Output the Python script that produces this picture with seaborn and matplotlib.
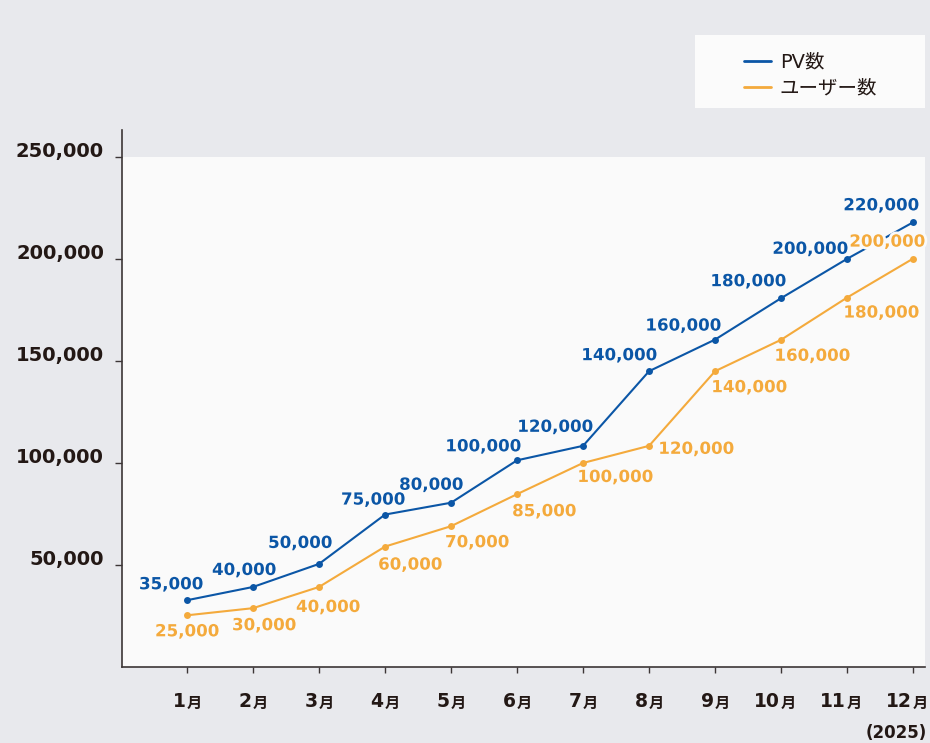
import matplotlib
matplotlib.use("Agg")
import matplotlib.pyplot as plt
import matplotlib.patheffects as pe
import pandas as pd
import seaborn as sns
from matplotlib.lines import Line2D
from matplotlib.patches import Rectangle
from matplotlib.transforms import ScaledTranslation

# data (plotted positions and printed labels differ a bit)
month_nums = ["1", "2", "3", "4", "5", "6", "7", "8", "9", "10", "11", "12"]
month_suffix = "月"
pv_values = [32500, 39000, 50300, 74500, 80300, 101100, 108200, 144800, 160300, 180600, 199900, 217800]
user_values = [25100, 28600, 39000, 58800, 68800, 84500, 99800, 108200, 144800, 160200, 180900, 200000]
pv_labels = ["35,000", "40,000", "50,000", "75,000", "80,000", "100,000",
             "120,000", "140,000", "160,000", "180,000", "200,000", "220,000"]
user_labels = ["25,000", "30,000", "40,000", "60,000", "70,000", "85,000",
               "100,000", "120,000", "140,000", "160,000", "180,000", "200,000"]
series_names = ["PV数", "ユーザー数"]
y_ticks = [50000, 100000, 150000, 200000, 250000]
y_tick_labels = ["50,000", "100,000", "150,000", "200,000", "250,000"]
year_note = "(2025)"

BLUE = "#0b56a6"
ORANGE = "#f4aa3c"
TEXT = "#231815"
FIG_BG = "#e8e9ed"
PLOT_BG = "#fafafa"

# label offsets from their point, in pixels (x right, y down)
pv_offsets = [(-16, -16), (-9, -17), (-19, -21), (-12, -15), (-20, -18), (-34, -14),
              (-28, -19), (-30, -16), (-32, -14), (-33, -17), (-37, -10), (-32, -17)]
user_offsets = [(0, 16), (11, 17), (9, 20), (25, 18), (26, 16), (27, 17),
                (32, 14), (47, 3), (34, 16), (31, 16), (34, 15), (-26, -17)]

sns.set_style("white")
plt.rcParams["font.family"] = ["DejaVu Sans", "Noto Sans CJK JP"]

df = pd.DataFrame({
    "idx": list(range(len(month_nums))) * 2,
    "value": pv_values + user_values,
    "series": [series_names[0]] * len(pv_values) + [series_names[1]] * len(user_values),
})

fig = plt.figure(figsize=(9.3, 7.43), dpi=100, facecolor=FIG_BG)
ax = fig.add_axes([122 / 930, 76.5 / 743, 803 / 930, 537 / 743])
ax.set_facecolor(FIG_BG)

x0, x1 = -0.985, 11.18
ax.set_xlim(x0, x1)
ax.set_ylim(0, 263300)
ax.add_patch(Rectangle((x0, 0), x1 - x0, y_ticks[-1], facecolor=PLOT_BG, edgecolor="none", zorder=0))

sns.lineplot(data=df, x="idx", y="value", hue="series", hue_order=series_names,
             palette=[BLUE, ORANGE], marker="o", markersize=5, markeredgewidth=0,
             linewidth=1.5, legend=False, ax=ax, zorder=3)

halo = [pe.withStroke(linewidth=4, foreground=PLOT_BG)]
for vals, labs, offs, col in [(pv_values, pv_labels, pv_offsets, BLUE),
                              (user_values, user_labels, user_offsets, ORANGE)]:
    for i, (v, lab, (dx, dy)) in enumerate(zip(vals, labs, offs)):
        ax.annotate(lab, xy=(i, v), xytext=(dx * 0.72, -dy * 0.72), textcoords="offset points",
                    ha="center", va="center", fontsize=12, fontweight="bold", color=col,
                    path_effects=halo, zorder=5)

# axes styling
for side in ["top", "right"]:
    ax.spines[side].set_visible(False)
for side in ["left", "bottom"]:
    ax.spines[side].set_color("#3c3636")
    ax.spines[side].set_linewidth(1.2)

ax.set_yticks(y_ticks)
ax.set_yticklabels(y_tick_labels, fontsize=14, fontweight="bold", color=TEXT)
ax.tick_params(axis="y", direction="out", length=5, width=1, color="#3c3636", pad=8, left=True)
shift = ScaledTranslation(0, 5 / 72, fig.dpi_scale_trans)
for lab in ax.get_yticklabels():
    lab.set_transform(lab.get_transform() + shift)

ax.set_xticks(range(len(month_nums)))
ax.set_xticklabels([])
ax.tick_params(axis="x", direction="out", length=4.5, width=1, color="#3c3636", bottom=True)
ax.set_xlabel("")
ax.set_ylabel("")

xt = ax.get_xaxis_transform()
for i, m in enumerate(month_nums):
    ax.annotate(m, xy=(i, 0), xycoords=xt, xytext=(-1, -29.5), textcoords="offset points",
                ha="right", va="baseline", fontsize=13.5, fontweight="bold", color=TEXT,
                annotation_clip=False)
    ax.annotate(month_suffix, xy=(i, 0), xycoords=xt, xytext=(0, -29.5), textcoords="offset points",
                ha="left", va="baseline", fontsize=11, fontweight="bold", color=TEXT,
                family="Noto Sans CJK JP", annotation_clip=False)
ax.annotate(year_note, xy=(1, 0), xycoords="axes fraction", xytext=(1, -51.5),
            textcoords="offset points", ha="right", va="baseline", fontsize=12,
            fontweight="semibold", color=TEXT, annotation_clip=False)

# legend box
fig.patches.append(Rectangle((695 / 930, 1 - 108 / 743), 230 / 930, 73 / 743,
                             transform=fig.transFigure, facecolor="#fbfbfb",
                             edgecolor="none", zorder=0))
handles = [Line2D([], [], color=BLUE, linewidth=2), Line2D([], [], color=ORANGE, linewidth=2)]
fig.legend(handles, series_names, loc="upper left", bbox_to_anchor=(734 / 930, 1 - 43 / 743),
           frameon=False, borderpad=0, handlelength=1.4, handletextpad=0.45,
           labelspacing=0.35, prop={"size": 14, "family": ["DejaVu Sans", "Noto Sans CJK JP"]},
           labelcolor=TEXT)

fig.savefig("out.png", dpi=100, facecolor=FIG_BG)
